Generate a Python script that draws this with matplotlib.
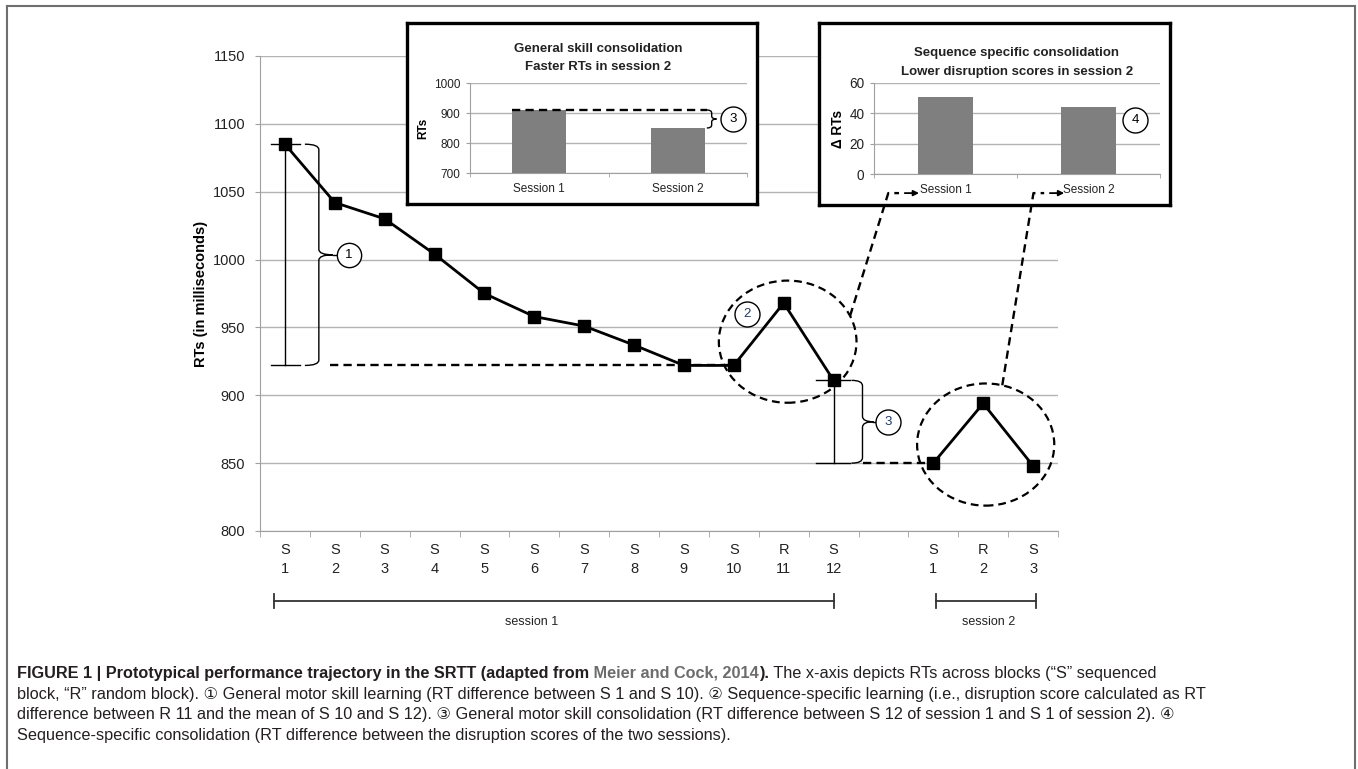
import numpy as np
import matplotlib
matplotlib.use('Agg')
import matplotlib.pyplot as plt
import matplotlib.transforms as mtransforms
from matplotlib.patches import Ellipse, PathPatch
from matplotlib.path import Path
from matplotlib.lines import Line2D

plt.rcParams['font.family'] = ['Liberation Sans', 'DejaVu Sans']

# Blocks on the x-axis (session 1, a gap, session 2)
block_labels = ['S\n1', 'S\n2', 'S\n3', 'S\n4', 'S\n5', 'S\n6', 'S\n7', 'S\n8',
                'S\n9', 'S\n10', 'R\n11', 'S\n12', '', 'S\n1', 'R\n2', 'S\n3']
session1_rt = [1085, 1042, 1030, 1004, 975, 958, 951, 937, 922, 922, 968, 911]
session2_rt = [850, 894, 848]

# Inset data
inset_sessions = ['Session 1', 'Session 2']
general_rt = [910, 850]
disruption_delta = [51, 44]

W, H = 1358, 769
fig = plt.figure(figsize=(W / 100, H / 100), dpi=100)


def fig_rect(left, top, right, bottom):
    # pixel box -> figure fraction rect
    return [left / W, 1 - bottom / H, (right - left) / W, (bottom - top) / H]


def brace(axis, x0, y_top, y_bot, w, r, lw=1.0):
    xm = x0 + w / 2
    ym = (y_top + y_bot) / 2
    verts = [(x0, y_top), (xm, y_top), (xm, y_top - r), (xm, ym + r), (xm, ym), (x0 + w, ym),
             (xm, ym), (xm, ym - r), (xm, y_bot + r), (xm, y_bot), (x0, y_bot)]
    codes = [Path.MOVETO, Path.CURVE3, Path.CURVE3, Path.LINETO, Path.CURVE3, Path.CURVE3,
             Path.CURVE3, Path.CURVE3, Path.LINETO, Path.CURVE3, Path.CURVE3]
    axis.add_patch(PathPatch(Path(verts, codes), fill=False, lw=lw, ec='black',
                             clip_on=False, zorder=5))


def num_circle(axis, x, y, label, color='black', size=18):
    axis.plot(x, y, marker='o', ms=size, mfc='white', mec='black', mew=1,
              zorder=7, clip_on=False)
    axis.text(x, y, label, ha='center', va='center', fontsize=9.5, color=color, zorder=8)


dash = dict(color='black', lw=1.7, dashes=(3.5, 2.2))

# Main chart
ax = fig.add_axes(fig_rect(260, 56, 1058, 531))
x1 = np.arange(len(session1_rt))
x2 = np.arange(len(session2_rt)) + len(session1_rt) + 1
ax.plot(x1, session1_rt, color='black', lw=2, marker='s', ms=8.6, zorder=6)
ax.plot(x2, session2_rt, color='black', lw=2, marker='s', ms=8.6, zorder=6)

ax.set_xlim(-0.5, len(block_labels) - 0.5)
ax.set_ylim(800, 1150)
ax.set_yticks(np.arange(800, 1151, 50))
ax.yaxis.grid(True, color='#b3b3b3', lw=1)
ax.set_axisbelow(True)
for s in ['top', 'right']:
    ax.spines[s].set_visible(False)
for s in ['left', 'bottom']:
    ax.spines[s].set_color('#a0a0a0')
ax.set_xticks(range(len(block_labels)))
ax.set_xticklabels(block_labels, fontsize=10.5, linespacing=1.45, color='#222222')
ax.set_xticks(np.arange(-0.5, len(block_labels)), minor=True)
ax.tick_params(axis='x', which='major', length=0, pad=9)
ax.tick_params(axis='x', which='minor', length=4, color='#a0a0a0')
ax.tick_params(axis='y', length=3.6, color='#a0a0a0', labelsize=10.5, pad=7, labelcolor='#222222')
ax.set_ylabel('RTs (in milliseconds)', fontsize=10.5, fontweight='bold', labelpad=3)

# 1: general motor skill learning
top, bot = session1_rt[0], session1_rt[9]
ax.plot([x1[0], x1[0]], [top, bot], color='black', lw=1, zorder=5)
ax.plot([-0.28, 0.3], [top, top], color='black', lw=1, zorder=5)
ax.plot([-0.28, 0.3], [bot, bot], color='black', lw=1, zorder=5)
brace(ax, 0.4, top, bot, 0.56, 4)
ax.plot([0.96, 1.28], [(top + bot) / 2] * 2, color='black', lw=1, zorder=5)
num_circle(ax, 1.28, (top + bot) / 2, '1', size=17.5)
ax.plot([0.9, x1[9]], [bot, bot], zorder=4, **dash)

# 2: sequence specific learning
ell1 = (x1[10] + 0.08, 939.5, 2.76, 90)
ax.add_patch(Ellipse(ell1[:2], ell1[2], ell1[3], fill=False, ec='black', lw=1.6,
                     linestyle=(0, (3.5, 2.2)), zorder=5, clip_on=False))
num_circle(ax, 9.26, 960, '2', color='#1f3864')

# 3: general skill consolidation
top, bot = session1_rt[11], session2_rt[0]
ax.plot([x1[11], x1[11]], [top, bot], color='black', lw=1, zorder=5)
ax.plot([10.64, 11.32], [top, top], color='black', lw=1, zorder=5)
ax.plot([10.64, 11.32], [bot, bot], color='black', lw=1, zorder=5)
brace(ax, 11.36, top, bot, 0.44, 4)
ax.plot([11.8, 12.1], [(top + bot) / 2] * 2, color='black', lw=1, zorder=5)
num_circle(ax, 12.1, (top + bot) / 2, '3', color='#1f3864')
ax.plot([11.6, x2[0]], [bot, bot], zorder=4, **dash)

# session 2 circle
ell2 = (x2[1] + 0.05, 863.7, 2.75, 90)
ax.add_patch(Ellipse(ell2[:2], ell2[2], ell2[3], fill=False, ec='black', lw=1.6,
                     linestyle=(0, (3.5, 2.2)), zorder=5, clip_on=False))

# session brackets under the axis
bt = mtransforms.blended_transform_factory(ax.transData, ax.transAxes)
for x_a, x_b, x_txt, name in [(-0.22, x1[-1], 4.95, 'session 1'),
                              (x2[0] + 0.06, x2[-1] + 0.05, 14.1, 'session 2')]:
    ax.plot([x_a, x_b], [-0.147, -0.147], color='#333333', lw=1.3, transform=bt, clip_on=False)
    for xe in (x_a, x_b):
        ax.plot([xe, xe], [-0.132, -0.162], color='#333333', lw=1.3, transform=bt, clip_on=False)
    ax.text(x_txt, -0.192, name, transform=bt, ha='center', va='center', fontsize=9,
            color='#222222')


def inset(box_px, ax_px, title_xy, title, values, ylim, yticks, ylabel, tick_fs):
    box = fig.add_axes(fig_rect(*box_px))
    box.set_xticks([])
    box.set_yticks([])
    box.set_zorder(3)
    for s in box.spines.values():
        s.set_linewidth(2.4)
        s.set_color('black')
    inner = fig.add_axes(fig_rect(*ax_px))
    inner.set_zorder(4)
    inner.patch.set_alpha(0)
    inner.bar(range(len(values)), values, width=0.39, color='#7f7f7f', zorder=3)
    inner.set_xlim(-0.5, len(values) - 0.5)
    inner.set_ylim(*ylim)
    inner.set_yticks(yticks)
    inner.yaxis.grid(True, color='#b3b3b3', lw=1)
    inner.set_axisbelow(True)
    for s in ['top', 'right']:
        inner.spines[s].set_visible(False)
    for s in ['left', 'bottom']:
        inner.spines[s].set_color('#a0a0a0')
    inner.set_xticks(range(len(values)))
    inner.set_xticklabels(inset_sessions, fontsize=8.5, color='#222222')
    inner.set_xticks(np.arange(-0.5, len(values)), minor=True)
    inner.tick_params(axis='x', which='major', length=0, pad=7)
    inner.tick_params(axis='x', which='minor', length=3, color='#a0a0a0')
    inner.tick_params(axis='y', length=3, color='#a0a0a0', labelsize=tick_fs, pad=4,
                      labelcolor='#222222')
    inner.set_ylabel(ylabel, fontsize=tick_fs, fontweight='bold', labelpad=3)
    for i, line in enumerate(title.split('\n')):
        fig.text(title_xy[0] / W, 1 - (title_xy[1] + i * 18.5) / H, line, ha='center',
                 va='center', fontsize=9.5, fontweight='bold', color='#222222')
    return inner


in1 = inset((407, 23, 757, 204), (470, 83, 747, 173), (598, 49),
            'General skill consolidation\nFaster RTs in session 2',
            general_rt, (700, 1000), [700, 800, 900, 1000], 'RTs', 8.5)
in1.plot([-0.195, 1.21], [general_rt[0]] * 2, zorder=5, **dash)
brace(in1, 1.21, general_rt[0], general_rt[1], 0.07, 10)
num_circle(in1, 1.40, (general_rt[0] + general_rt[1]) / 2, '3')

in2 = inset((819, 23, 1170, 205), (874, 83, 1160, 174), (1017, 53),
            'Sequence specific consolidation\nLower disruption scores in session 2',
            disruption_delta, (0, 60), [0, 20, 40, 60], '\u0394 RTs', 9.8)
num_circle(in2, 1.325, 35.8, '4')

# dashed connectors from the circles to the inset sessions
to_fig = fig.transFigure.inverted()
bt2 = mtransforms.blended_transform_factory(in2.transData, in2.transAxes)
for ell, theta, xs in [(ell1, 25, -0.40), (ell2, 76, 0.615)]:
    th = np.deg2rad(theta)
    p0 = ax.transData.transform((ell[0] + ell[2] / 2 * np.cos(th), ell[1] + ell[3] / 2 * np.sin(th)))
    p1 = bt2.transform((xs, -0.21))
    p2 = bt2.transform((xs + 0.075, -0.21))
    pts = to_fig.transform([p0, p1, p2])
    fig.add_artist(Line2D(pts[:, 0], pts[:, 1], zorder=10, **dash))
    in2.annotate('', xy=(xs + 0.215, -0.21), xytext=(xs + 0.115, -0.21), xycoords=bt2,
                 textcoords=bt2, annotation_clip=False,
                 arrowprops=dict(arrowstyle='-|>', lw=1.3, color='black', mutation_scale=8,
                                 shrinkA=0, shrinkB=0))

# frame
for xs_, ys_ in [([7, 7], [769, 6]), ([7, 1355], [6, 6]), ([1355, 1355], [6, 769])]:
    fig.add_artist(Line2D(np.array(xs_) / W, 1 - np.array(ys_) / H, color='#6f6f6f', lw=1.5))

# caption
renderer = fig.canvas.get_renderer()
cap_fs = 11.7
ink = '#231f20'
caption = [
    [('FIGURE 1 | Prototypical performance trajectory in the SRTT (adapted from', 'bold', ink),
     (' Meier and Cock, 2014', 'bold', '#6d6d6d'), (').', 'bold', ink),
     (' The x-axis depicts RTs across blocks (\u201cS\u201d sequenced', 'normal', ink)],
    [('block, \u201cR\u201d random block). \u2460 General motor skill learning (RT difference between S 1 and S 10). '
      '\u2461 Sequence-specific learning (i.e., disruption score calculated as RT', 'normal', ink)],
    [('difference between R 11 and the mean of S 10 and S 12). \u2462 General motor skill consolidation '
      '(RT difference between S 12 of session 1 and S 1 of session 2). \u2463', 'normal', ink)],
    [('Sequence-specific consolidation (RT difference between the disruption scores of the two sessions).',
      'normal', ink)],
]
for i, segments in enumerate(caption):
    x = 17
    y = 678 + i * 20.6
    for txt, weight, color in segments:
        t = fig.text(x / W, 1 - y / H, txt, fontsize=cap_fs, fontweight=weight, color=color,
                     ha='left', va='baseline', family=['Liberation Sans', 'DejaVu Sans'])
        x += t.get_window_extent(renderer).width

fig.savefig('out.png', dpi=100)
